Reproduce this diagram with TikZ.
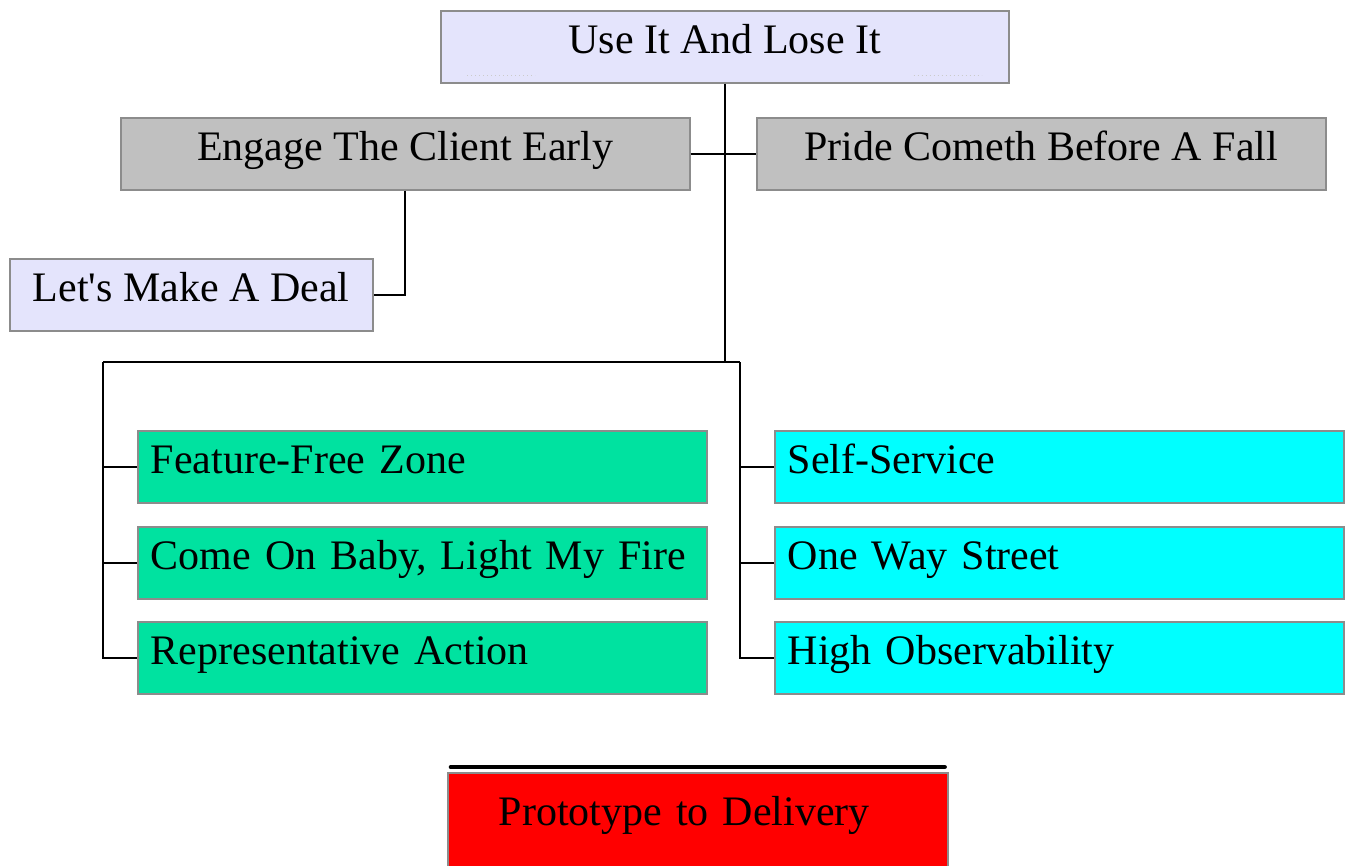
\documentclass[tikz,border=0pt]{standalone}
\usepackage{fontspec}
\setmainfont{Liberation Serif}
\usepackage{tikz}
\usetikzlibrary{positioning,calc}

\definecolor{lavender}{RGB}{228,228,252}
\definecolor{silver}{RGB}{192,192,192}
\definecolor{mint}{RGB}{0,226,160}
\definecolor{aqua}{RGB}{0,255,255}
\definecolor{frame}{RGB}{140,140,140}

\begin{document}
\begin{tikzpicture}[x=0.75pt,y=0.75pt,yscale=-1,xscale=1,
    box/.style={draw=frame, line width=1.2pt, inner sep=0pt, anchor=north west,
        minimum height=54pt, text height=32.25pt, text depth=21.75pt,
        font=\fontsize{31.5}{38}\selectfont},
    widebox/.style={box, minimum width=426.75pt},
    leftbox/.style={box, align=left, inner xsep=9.75pt, text width=407.25pt},
    wire/.style={line width=1.5pt}]
    \useasboundingbox (0,0) rectangle (1349,865);
    % upper part of the tree
    \node[widebox, fill=lavender, minimum width=426pt] (top) at (440,10) {Use It And Lose It};
    \node[widebox, fill=silver] (engage) at (120,117) {Engage The Client Early};
    \node[widebox, fill=silver] (pride) at (756,117) {Pride Cometh Before A Fall};
    \node[box, fill=lavender, minimum width=272.25pt] (deal) at (9,258) {Let\textquotesingle s Make A Deal};
    % faint dots along the top box
    \draw[dotted, line width=1pt, frame!45] ([shift={(27,-8)}]top.south west) -- ++(68,0);
    \draw[dotted, line width=1pt, frame!45] ([shift={(-96,-8)}]top.south east) -- ++(68,0);
    % two columns
    \node[leftbox, fill=mint] (ff) at (137,430) {Feature-Free Zone};
    \node[leftbox, fill=mint] (baby) at (137,526) {Come On Baby, Light My Fire};
    \node[leftbox, fill=mint] (rep) at (137,621) {Representative Action};
    \node[leftbox, fill=aqua] (self) at (774,430) {Self-Service};
    \node[leftbox, fill=aqua] (oneway) at (774,526) {One Way Street};
    \node[leftbox, fill=aqua] (high) at (774,621) {High Observability};
    % bottom box, runs off the page
    \node[box, fill=red, align=left, inner xsep=38.25pt, text width=298.5pt, minimum height=75pt,
        text height=39.75pt, text depth=35.25pt] (proto) at (447,772) {Prototype to Delivery};
    \draw[line width=3.5pt, line cap=round] ([shift={(4,-5)}]proto.north west) -- ([shift={(-4,-5)}]proto.north east);
    % connectors
    \coordinate (lbus) at (103,362);
    \coordinate (rbus) at (740,362);
    \coordinate (hub) at (top.south |- lbus);
    \draw[wire] (top.south) -- (hub);
    \draw[wire] (engage.east) -- (pride.west);
    \draw[wire] (engage.south) |- (deal.east);
    \draw[wire] (lbus) -- (rbus);
    \draw[wire] (lbus) |- (rep.west);
    \draw[wire] (rbus) |- (high.west);
    \foreach \n in {ff,baby}
        \draw[wire] (\n.west -| lbus) -- (\n.west);
    \foreach \n in {self,oneway}
        \draw[wire] (\n.west -| rbus) -- (\n.west);
\end{tikzpicture}
\end{document}
